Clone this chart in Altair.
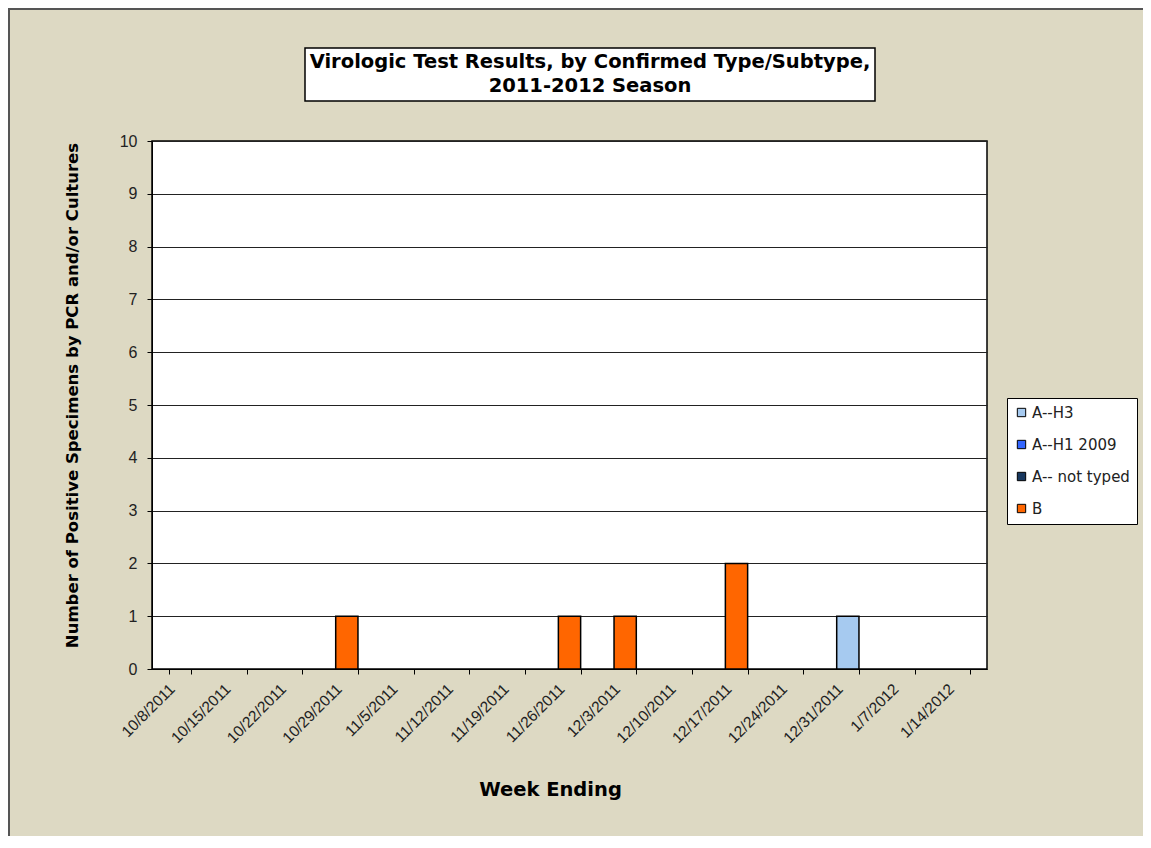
import altair as alt
import pandas as pd

weeks = ["10/8/2011", "10/15/2011", "10/22/2011", "10/29/2011", "11/5/2011",
         "11/12/2011", "11/19/2011", "11/26/2011", "12/3/2011", "12/10/2011",
         "12/17/2011", "12/24/2011", "12/31/2011", "1/7/2012", "1/14/2012"]
series = ["A--H3", "A--H1 2009", "A-- not typed", "B"]
colors = ["#A6CAF0", "#3366FF", "#17375E", "#FF6600"]
a_h3 = [0, 0, 0, 0, 0, 0, 0, 0, 0, 0, 0, 0, 1, 0, 0]
a_h1 = [0, 0, 0, 0, 0, 0, 0, 0, 0, 0, 0, 0, 0, 0, 0]
a_nt = [0, 0, 0, 0, 0, 0, 0, 0, 0, 0, 0, 0, 0, 0, 0]
b_vals = [0, 0, 0, 1, 0, 0, 0, 1, 1, 0, 2, 0, 0, 0, 0]
title_line1 = "Virologic Test Results, by Confirmed Type/Subtype,"
title_line2 = "2011-2012 Season"

rows = []
for s_i, (s, vals) in enumerate(zip(series, [a_h3, a_h1, a_nt, b_vals])):
    for w, v in zip(weeks, vals):
        rows.append({"week": w, "series": s, "order": s_i, "count": v})
df = pd.DataFrame(rows)

FONT = "Liberation Sans"
BOLD = "DejaVu Sans"

bars = alt.Chart(df).transform_filter("datum.count > 0").mark_bar(
    stroke="black", strokeWidth=1.5
).encode(
    x=alt.X("week:N", sort=weeks,
            scale=alt.Scale(domain=weeks, paddingInner=0.6, paddingOuter=0.3),
            axis=alt.Axis(title="Week Ending", titleFont=BOLD, titleFontSize=19.5,
                          titleFontWeight="bold", titleColor="black",
                          titleX=398, titleY=120, titleAlign="center",
                          titleBaseline="middle",
                          labelAngle=-45, labelAlign="right", labelBaseline="middle",
                          labelPadding=12, labelOffset=-8,
                          labelFont=FONT, labelFontSize=15.5,
                          labelColor="#222222", tickBand="extent", tickSize=5,
                          tickColor="black", domainColor="black", grid=False)),
    y=alt.Y("count:Q", stack="zero",
            scale=alt.Scale(domain=[0, 10], nice=False),
            axis=alt.Axis(title="Number of Positive Specimens by PCR and/or Cultures",
                          titleFont=BOLD, titleFontSize=16.5, titleFontWeight="bold",
                          titleColor="black", titleX=-80, titleY=254,
                          titleAlign="center", titleBaseline="middle",
                          values=list(range(11)), labelFont=FONT, labelFontSize=16,
                          labelColor="#222222", labelPadding=10, tickSize=5,
                          tickColor="black", domainColor="black",
                          grid=True, gridColor="#222222", gridWidth=1)),
    color=alt.Color("series:N", scale=alt.Scale(domain=series, range=colors),
                    legend=alt.Legend(title=None, orient="none", legendX=855,
                                      legendY=257, fillColor="white",
                                      strokeColor="black", padding=7,
                                      symbolType="square", symbolSize=70,
                                      symbolStrokeColor="black", symbolStrokeWidth=1,
                                      symbolOpacity=1,
                                      labelFont="DejaVu Sans", labelFontSize=15,
                                      labelColor="#222222", labelOffset=3,
                                      rowPadding=16)),
    order=alt.Order("order:Q"),
)

one = alt.Data(values=[{"k": 1}])

border = alt.Chart(one).mark_rect(fill=None, stroke="#555555", strokeWidth=2).encode(
    x=alt.value(-143), x2=alt.value(1000), y=alt.value(-132), y2=alt.value(700)
)

title_box = alt.Chart(one).mark_rect(fill="white", stroke="black", strokeWidth=1.5).encode(
    x=alt.value(153), x2=alt.value(723), y=alt.value(-93), y2=alt.value(-40)
)

t1 = alt.Chart(alt.Data(values=[{"t": title_line1}])).mark_text(
    font=BOLD, fontSize=19.5, fontWeight="bold", color="black",
    align="center", baseline="middle"
).encode(x=alt.value(438), y=alt.value(-79), text="t:N")

t2 = alt.Chart(alt.Data(values=[{"t": title_line2}])).mark_text(
    font=BOLD, fontSize=19.5, fontWeight="bold", color="black",
    align="center", baseline="middle"
).encode(x=alt.value(438), y=alt.value(-55), text="t:N")

chart = alt.layer(border, title_box, bars, t1, t2).properties(
    width=835, height=528,
    autosize=alt.AutoSizeParams(type="none"),
    padding={"left": 144, "top": 133, "right": 156, "bottom": 167},
    background="#DDD9C3",
).configure_view(
    fill="white", stroke="black", strokeWidth=1.5
)

chart.save("out.html", embed_options={"renderer": "svg", "actions": False})
